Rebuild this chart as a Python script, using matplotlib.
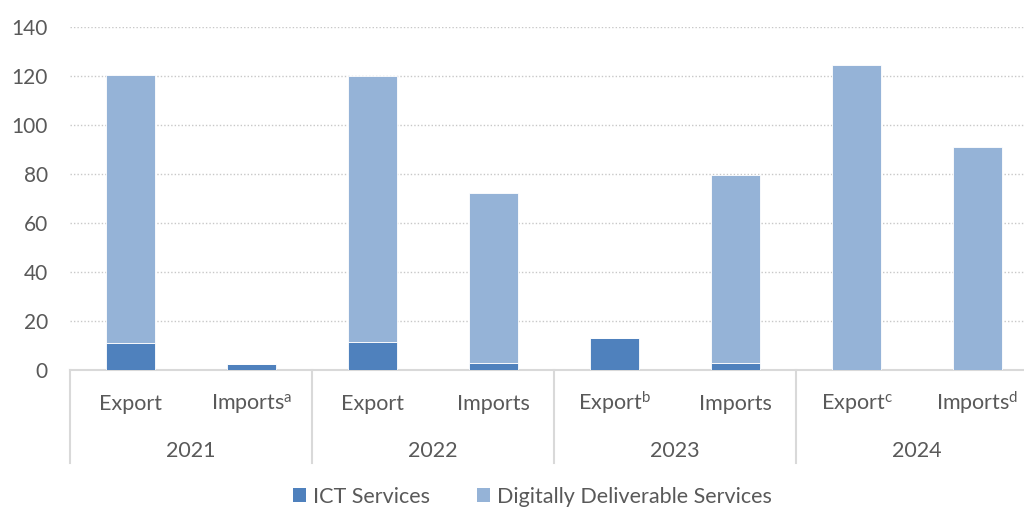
import matplotlib
matplotlib.use("Agg")
import matplotlib.pyplot as plt
from matplotlib.patches import Patch
import numpy as np

years = ["2021", "2022", "2023", "2024"]
flows = ["Export", "Imports$^{a}$", "Export", "Imports",
         "Export$^{b}$", "Imports", "Export$^{c}$", "Imports$^{d}$"]
ict = [11.2, 2.3, 11.6, 2.7, 13.1, 3.0, 0.0, 0.0]
dds = [109.3, 0.0, 108.4, 69.5, 0.0, 76.6, 124.5, 91.0]

ict_color = "#4F81BD"
dds_color = "#95B3D7"
txt = "#595959"

plt.rcParams["font.family"] = ["Lato", "DejaVu Sans"]
plt.rcParams["mathtext.default"] = "regular"

fig = plt.figure(figsize=(10.24, 5.09), dpi=100)
ax = fig.add_axes([0.0684, 0.2731, 0.9453, 0.6739])

x = np.arange(len(flows))
ax.bar(x, ict, width=0.4, color=ict_color, edgecolor="white", linewidth=0.6, zorder=3)
ax.bar(x, dds, width=0.4, bottom=ict, color=dds_color, edgecolor="white", linewidth=0.6, zorder=3)

ax.set_xlim(-0.5, len(flows) - 0.5)
ax.set_ylim(0, 140)
ax.set_yticks(np.arange(0, 141, 20))
ax.tick_params(axis="y", length=0, pad=16, labelsize=15, labelcolor=txt)
ax.set_xticks([])
ax.yaxis.grid(True, linestyle=(0, (1, 1.5)), color="#c8c8c8", linewidth=1, zorder=0)
for s in ["left", "right", "top"]:
    ax.spines[s].set_visible(False)
ax.spines["bottom"].set_color("#d9d9d9")
ax.spines["bottom"].set_linewidth(1.5)

# two-level category axis
tr = ax.get_xaxis_transform()
for i, lab in enumerate(flows):
    ax.text(i, -0.117, lab, transform=tr, ha="center", va="baseline",
            fontsize=15.5, color=txt)
for j, yr in enumerate(years):
    ax.text(2 * j + 0.5, -0.2536, yr, transform=tr, ha="center", va="baseline",
            fontsize=15.5, color=txt)
for k in range(len(years) + 1):
    ax.plot([2 * k - 0.5, 2 * k - 0.5], [0, -0.271], transform=tr,
            color="#d9d9d9", linewidth=1.5, clip_on=False)

handles = [Patch(facecolor=ict_color, label="ICT Services"),
           Patch(facecolor=dds_color, label="Digitally Deliverable Services")]
fig.legend(handles=handles, loc="center", bbox_to_anchor=(0.52, 0.024), ncol=2,
           frameon=False, fontsize=15.5, labelcolor=txt, handlelength=0.6,
           handleheight=0.6, handletextpad=0.3, columnspacing=2.2)

fig.savefig("out.png", dpi=100)
